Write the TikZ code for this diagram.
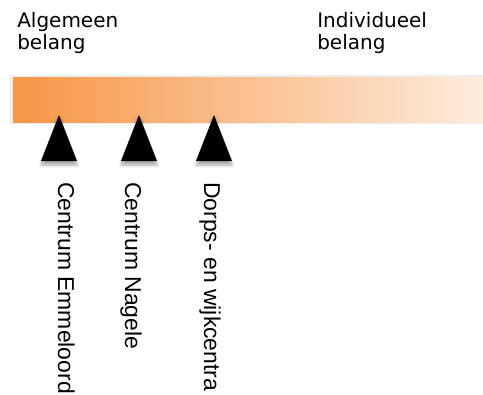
\documentclass[tikz,border=0pt]{standalone}
\usepackage{fontspec}
\setmainfont{DejaVu Sans}
\newfontfamily\sitefont{Liberation Sans}
\usetikzlibrary{shadows.blur}

\definecolor{barorange}{RGB}{247,150,70}
\definecolor{barpale}{RGB}{253,236,222}
\definecolor{barrim}{RGB}{238,238,238}

\begin{document}
\begin{tikzpicture}[x=0.75pt, y=-0.75pt,
        marker/.style={fill=black, blur shadow={shadow xshift=0pt, shadow yshift=-3pt, shadow blur steps=6, shadow opacity=35}},
        endlabel/.style={anchor=base west, inner sep=0pt, align=left, font=\fontsize{15pt}{16.5pt}\selectfont},
        sitelabel/.style={anchor=base west, rotate=-90, inner sep=0pt, font=\sitefont\fontsize{17.2pt}{20pt}\selectfont}]
        \useasboundingbox (0,0) rectangle (483,394);
        % labels at both ends of the scale
        \node[endlabel] (algemeen)    at (17,49)  {Algemeen\\belang};
        \node[endlabel] (individueel) at (317,49) {Individueel\\belang};
        % the scale bar
        \fill[barrim] (10,75) rectangle (483,124);
        \shade[left color=barorange, right color=barpale] (13,77) rectangle (483,122);
        % markers on the scale
        \fill[marker] (41,161)  -- (59,115)  -- (77,161)  -- cycle;
        \fill[marker] (121,161) -- (139,115) -- (157,161) -- cycle;
        \fill[marker] (196,161) -- (214,115) -- (232,161) -- cycle;
        % marker labels
        \node[sitelabel] (emmeloord) at (58,182)  {Centrum Emmeloord};
        \node[sitelabel] (nagele)    at (125,182) {Centrum Nagele};
        \node[sitelabel] (wijk)      at (204,182) {Dorps- en wijkcentra};
    \end{tikzpicture}
\end{document}
